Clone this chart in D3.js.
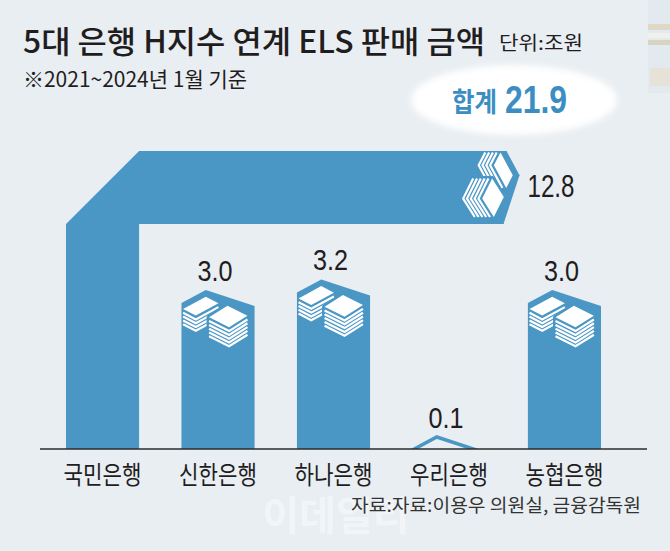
<!DOCTYPE html>
<html>
<head>
<meta charset="utf-8">
<script src="https://cdn.jsdelivr.net/npm/d3@7"></script>
<style>
  body { margin: 0; background: #e9eef2; }
  svg { display: block; }
</style>
</head>
<body>
<div id="chart"></div>
<script>
// data
var banks = ["국민은행", "신한은행", "하나은행", "우리은행", "농협은행"];
var amounts = [12.8, 3.0, 3.2, 0.1, 3.0];
var amountLabels = ["12.8", "3.0", "3.2", "0.1", "3.0"];
var totalLabel = "21.9";

var svgWidth = 670;
var svgHeight = 551;
var baseY = 449;     // axis line
var foldY = 151;     // top of the bent 국민은행 bar
var barColor = "#4a96c4";
var ink = "#1f1d1e";
var krFont = "'Noto Sans CJK KR', sans-serif";
var numFont = "'Liberation Sans', Arial, sans-serif";

var svg = d3.select("#chart").append("svg")
  .attr("width", svgWidth)
  .attr("height", svgHeight);

svg.append("rect")
  .attr("width", svgWidth).attr("height", svgHeight)
  .attr("fill", "#e9eef2");

// faint photo fragment at the top right edge
var photo = svg.append("g").attr("opacity", 0.7);
photo.append("rect").attr("x", 648).attr("y", 0).attr("width", 22).attr("height", 93).attr("fill", "#e0e7ee");
photo.append("rect").attr("x", 648).attr("y", 24).attr("width", 22).attr("height", 6).attr("fill", "#dccfb6");
photo.append("rect").attr("x", 648).attr("y", 33).attr("width", 22).attr("height", 5).attr("fill", "#f4f2ec");
photo.append("rect").attr("x", 648).attr("y", 40).attr("width", 22).attr("height", 5).attr("fill", "#d6c8ad");
photo.append("rect").attr("x", 650).attr("y", 68).attr("width", 20).attr("height", 18).attr("fill", "#e6ddcc");

var defs = svg.append("defs");
defs.append("filter").attr("id", "soft")
  .attr("x", "-20%").attr("y", "-40%").attr("width", "140%").attr("height", "180%")
  .append("feGaussianBlur").attr("stdDeviation", 3);
defs.append("clipPath").attr("id", "aboveBase")
  .append("rect").attr("x", 0).attr("y", 0).attr("width", svgWidth).attr("height", baseY);

// scales
var x = d3.scaleBand()
  .domain(banks)
  .range([66, 601])
  .paddingInner(0.367)
  .paddingOuter(0);

var len = d3.scaleLinear()
  .domain([0, 10])
  .range([0, 530]);

var w = x.bandwidth();
var dl = 13, dr = 16, pk = w * 0.333;   // roof shape

// stacks of white sheets on the roof, local coords (x across, y down from peak)
function drawStacks(g) {
  var s = 3.8;
  function stack(L, T, R, n, occlude) {
    var B = [L[0] + R[0] - T[0], L[1] + R[1] - T[1]];
    if (occlude) {
      var d = n * s + 1.5;
      g.append("polygon")
        .attr("points", [L, T, R, [R[0], R[1] + d], [B[0], B[1] + d], [L[0], L[1] + d]].join(" "))
        .attr("fill", barColor).attr("stroke", barColor)
        .attr("stroke-width", 5).attr("stroke-linejoin", "round");
    }
    g.append("polygon")
      .attr("points", [L, T, R, B].join(" "))
      .attr("fill", "#fff");
    for (var i = 1; i <= n; i++) {
      g.append("polyline")
        .attr("points", [[L[0], L[1] + i * s], [B[0], B[1] + i * s], [R[0], R[1] + i * s]].join(" "))
        .attr("fill", "none").attr("stroke", "#fff").attr("stroke-width", 2.2);
    }
  }
  stack([1.6, 19], [24.3, 6.7], [37, 13.3], 4, false);
  stack([27.6, 27.3], [46, 15.7], [66, 25.7], 5, true);
}

// narrow number label
function numLabel(xPos, yPos, txt, size, width, anchor) {
  return svg.append("text")
    .attr("x", xPos)
    .attr("y", yPos)
    .attr("text-anchor", anchor)
    .attr("font-family", numFont)
    .attr("font-size", size)
    .attr("textLength", width)
    .attr("lengthAdjust", "spacingAndGlyphs")
    .attr("fill", ink)
    .text(txt);
}

var bars = svg.append("g");

banks.forEach(function(bank, i) {
  var v = amounts[i];
  var x0 = x(bank);
  var h = len(v);

  if (i === 0) {
    // bent bar: up, then right
    var tipX = x0 + w / 2 + (h - (baseY - (foldY + w / 2)));
    bars.append("path")
      .attr("d", "M" + x0 + "," + baseY +
        "L" + x0 + "," + (foldY + w) +
        "L" + (x0 + w) + "," + foldY +
        "L" + (tipX - dl) + "," + foldY +
        "L" + (tipX - dr) + "," + (foldY + w) +
        "L" + (x0 + w) + "," + (foldY + w) +
        "L" + (x0 + w) + "," + baseY + "Z")
      .attr("fill", barColor);
    var end = bars.append("g")
      .attr("transform", "translate(" + tipX + "," + foldY + ") rotate(90)");
    end.append("polygon")
      .attr("points", [[0, dl], [pk, 0], [w, dr], [w, dr + 2], [0, dl + 2]].join(" "))
      .attr("fill", barColor);
    drawStacks(end);
    numLabel(tipX + 8, foldY + w / 2 + 9, amountLabels[i], 31, 47, "start");
    return;
  }

  var peakY = baseY - Math.max(h, dl - 1);
  var cx = x0 + w / 2;

  if (h < dl) {
    // too small for a body: only the roof outline shows
    bars.append("polyline")
      .attr("clip-path", "url(#aboveBase)")
      .attr("points", [[x0, peakY + dl], [x0 + pk, peakY], [x0 + w, peakY + dr]].join(" "))
      .attr("fill", "none")
      .attr("stroke", barColor)
      .attr("stroke-width", 3.5);
  } else {
    bars.append("path")
      .attr("d", "M" + x0 + "," + baseY +
        "L" + x0 + "," + (peakY + dl) +
        "L" + (x0 + pk) + "," + peakY +
        "L" + (x0 + w) + "," + (peakY + dr) +
        "L" + (x0 + w) + "," + baseY + "Z")
      .attr("fill", barColor);
    var top = bars.append("g")
      .attr("transform", "translate(" + x0 + "," + peakY + ")");
    drawStacks(top);
  }

  numLabel(cx - 3, peakY - 9, amountLabels[i], 30, 35, "middle");
});

// axis line and bank names
svg.append("line")
  .attr("x1", 40).attr("x2", 647)
  .attr("y1", baseY).attr("y2", baseY)
  .attr("stroke", "#2b2b2b").attr("stroke-width", 1.4);

svg.append("g").selectAll("text")
  .data(banks)
  .enter()
  .append("text")
  .attr("x", d => x(d) + w / 2 - 39)
  .attr("y", 484)
  .attr("font-family", krFont)
  .attr("font-size", 25)
  .attr("textLength", 78)
  .attr("lengthAdjust", "spacingAndGlyphs")
  .attr("fill", ink)
  .text(d => d);

// titles
svg.append("text")
  .attr("x", 23).attr("y", 53)
  .attr("font-family", krFont)
  .attr("font-size", 31)
  .attr("font-weight", 500)
  .attr("textLength", 462)
  .attr("lengthAdjust", "spacingAndGlyphs")
  .attr("fill", ink)
  .text("5대 은행 H지수 연계 ELS 판매 금액");

svg.append("text")
  .attr("x", 499).attr("y", 50)
  .attr("font-family", krFont)
  .attr("font-size", 19)
  .attr("textLength", 84)
  .attr("lengthAdjust", "spacingAndGlyphs")
  .attr("fill", ink)
  .text("단위:조원");

svg.append("text")
  .attr("x", 23).attr("y", 87)
  .attr("font-family", krFont)
  .attr("font-size", 21)
  .attr("textLength", 224)
  .attr("lengthAdjust", "spacingAndGlyphs")
  .attr("fill", ink)
  .text("※2021~2024년 1월 기준");

// total badge
svg.append("ellipse")
  .attr("cx", 514).attr("cy", 100)
  .attr("rx", 103).attr("ry", 35)
  .attr("fill", "#ffffff")
  .attr("filter", "url(#soft)");

svg.append("text")
  .attr("x", 452).attr("y", 112)
  .attr("font-family", krFont)
  .attr("font-size", 27)
  .attr("font-weight", 700)
  .attr("textLength", 45)
  .attr("lengthAdjust", "spacingAndGlyphs")
  .attr("fill", "#3b8ec2")
  .text("합계");

svg.append("text")
  .attr("x", 505).attr("y", 113)
  .attr("font-family", numFont)
  .attr("font-size", 39)
  .attr("font-weight", 700)
  .attr("textLength", 62)
  .attr("lengthAdjust", "spacingAndGlyphs")
  .attr("fill", "#3b8ec2")
  .text(totalLabel);

// watermark and source
svg.append("text")
  .attr("x", 336).attr("y", 530)
  .attr("text-anchor", "middle")
  .attr("font-family", krFont)
  .attr("font-size", 40)
  .attr("font-weight", 700)
  .attr("fill", "#ffffff")
  .attr("opacity", 0.45)
  .text("이데일리");

svg.append("text")
  .attr("x", 641).attr("y", 512)
  .attr("text-anchor", "end")
  .attr("font-family", krFont)
  .attr("font-size", 18)
  .attr("textLength", 290)
  .attr("lengthAdjust", "spacingAndGlyphs")
  .attr("fill", "#333333")
  .text("자료:자료:이용우 의원실, 금융감독원");
</script>
</body>
</html>
